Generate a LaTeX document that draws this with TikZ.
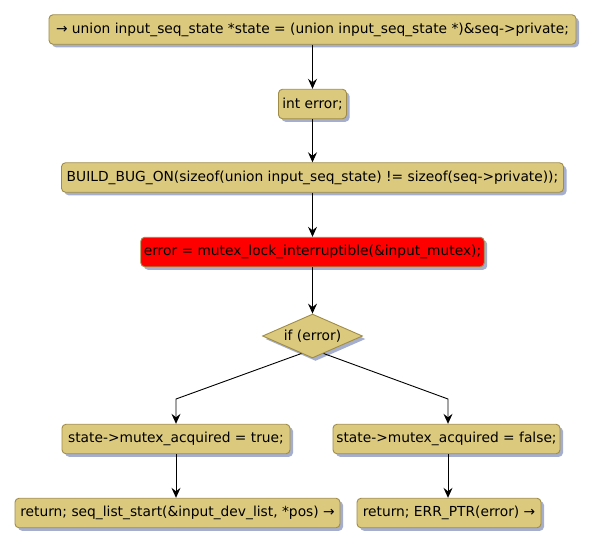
\documentclass[tikz,border=0pt]{standalone}
\usepackage{fontspec}
\setmainfont{DejaVu Sans}
\usetikzlibrary{calc, positioning}
\usetikzlibrary{arrows.meta}
\usetikzlibrary{shapes.geometric, shadows}

\begin{document}
\begin{tikzpicture}[x=1pt,y=-1pt,
  font=\fontsize{13.8}{16}\selectfont,
  act/.style={draw=boxedge,fill=boxfill,rounded corners=4pt,line width=0.9pt,
    inner xsep=3pt,minimum height=29.5pt,
    drop shadow={shadow xshift=3pt,shadow yshift=-3pt,fill=shadowgrey,opacity=1}},
  cond/.style={draw=boxedge,fill=boxfill,diamond,aspect=2,line width=0.9pt,
    minimum width=100pt,inner sep=1pt,
    drop shadow={shadow xshift=3pt,shadow yshift=-3pt,fill=shadowgrey,opacity=1}},
  flow/.style={-{Stealth[length=10pt,width=9pt,inset=3.5pt]},line width=0.9pt}]
\definecolor{boxfill}{RGB}{219,201,125}
\definecolor{boxedge}{RGB}{160,140,70}
\definecolor{shadowgrey}{RGB}{165,175,205}
\definecolor{hotred}{RGB}{255,0,0}
\useasboundingbox (0,0) rectangle (593,547);

% Straight part of the function body.
\node[act,minimum width=527pt] (state) at (312.5,29.5)
  {→ union input\_seq\_state *state = (union input\_seq\_state *)\&seq->private;};
\node[act,minimum width=68pt] (err) at (312.5,104) {int error;};
\node[act,minimum width=502pt] (bug) at (312.5,177.5)
  {BUILD\_BUG\_ON(sizeof(union input\_seq\_state) != sizeof(seq->private));};
\node[act,fill=hotred,minimum width=343pt] (lock) at (312.5,252)
  {error = mutex\_lock\_interruptible(\&input\_mutex);};
\node[cond] (iferr) at (312.5,336) {if (error)};

% The two branches.
\node[act,minimum width=228pt] (acqtrue) at (176,439) {state->mutex\_acquired = true;};
\node[act,minimum width=227pt] (acqfalse) at (446.5,439) {state->mutex\_acquired = false;};
\node[act,minimum width=325pt] (retstart) at (177.5,513)
  {return; seq\_list\_start(\&input\_dev\_list, *pos) →};
\node[act,minimum width=184pt] (reterr) at (449,513) {return; ERR\_PTR(error) →};

\coordinate (lbend) at (176,399);
\coordinate (rbend) at (448,399);

\draw[flow] (state) -- (err);
\draw[flow] (err) -- (bug);
\draw[flow] (bug) -- (lock);
\draw[flow] (lock) -- (iferr);
\draw[flow] ($(iferr.south)!0.22!(iferr.west)$) -- (lbend) -- (lbend |- acqtrue.north);
\draw[flow] ($(iferr.south)!0.22!(iferr.east)$) -- (rbend) -- (rbend |- acqfalse.north);
\draw[flow] (lbend |- acqtrue.south) -- (lbend |- retstart.north);
\draw[flow] (rbend |- acqfalse.south) -- (rbend |- reterr.north);
\end{tikzpicture}
\end{document}
